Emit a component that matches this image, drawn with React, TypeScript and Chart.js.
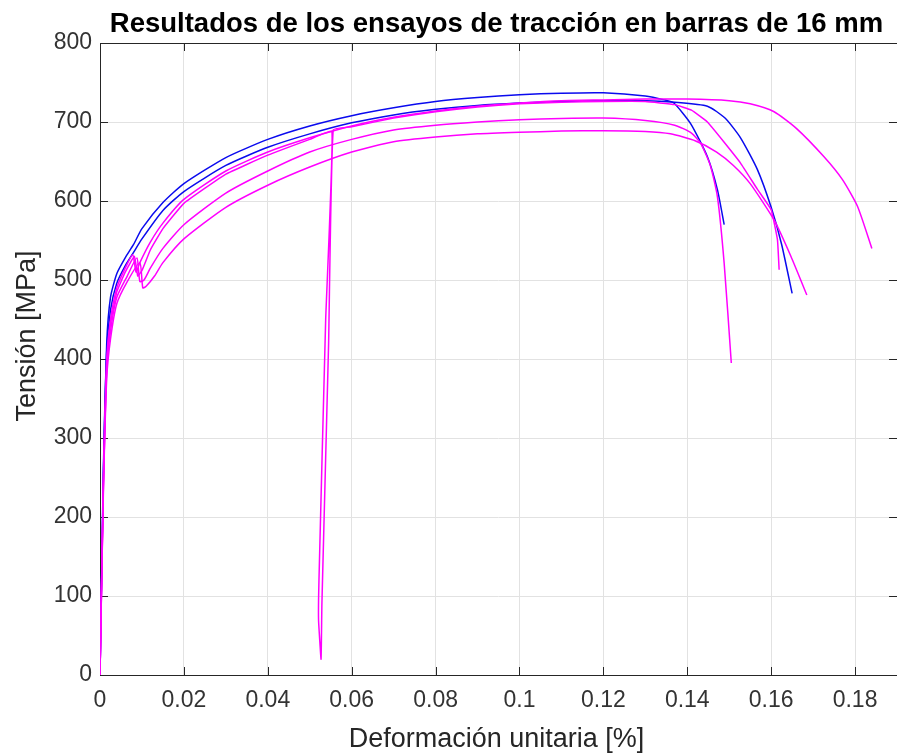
import React, { useEffect, useRef } from 'react';
import { Chart, registerables } from 'chart.js';

Chart.register(...registerables);

// ---------- text ----------
const TITLE = 'Resultados de los ensayos de tracción en barras de 16 mm';
const X_LABEL = 'Deformación unitaria [%]';
const Y_LABEL = 'Tensión [MPa]';

// ---------- ticks ----------
const xTickValues = [0, 0.02, 0.04, 0.06, 0.08, 0.1, 0.12, 0.14, 0.16, 0.18];
const xTickLabels = ['0', '0.02', '0.04', '0.06', '0.08', '0.1', '0.12', '0.14', '0.16', '0.18'];
const yTickValues = [0, 100, 200, 300, 400, 500, 600, 700, 800];
const yTickLabels = ['0', '100', '200', '300', '400', '500', '600', '700', '800'];

// ---------- data: strain (fraction) / stress (MPa) ----------
const blueAStrain = [0, 0.0008, 0.0016, 0.0025, 0.004, 0.006, 0.008, 0.01, 0.015, 0.02, 0.03, 0.04, 0.05, 0.06, 0.07, 0.08, 0.09, 0.1, 0.11, 0.12, 0.13, 0.1345, 0.1368, 0.1408, 0.1448, 0.1472, 0.1488];
const blueAStress = [0, 260, 420, 478, 508, 528, 545, 565, 598, 622, 655, 678, 695, 708, 718, 726, 731, 734.5, 736.5, 737, 733, 728, 724, 698, 656, 614, 570];

const blueBStrain = [0, 0.0008, 0.0016, 0.0025, 0.004, 0.006, 0.008, 0.01, 0.015, 0.02, 0.03, 0.04, 0.05, 0.06, 0.07, 0.08, 0.09, 0.1, 0.11, 0.12, 0.13, 0.137, 0.1448, 0.149, 0.1527, 0.1567, 0.16, 0.1625, 0.165];
const blueBStress = [0, 250, 410, 462, 496, 518, 535, 552, 588, 612, 645, 668, 685, 699, 709, 716, 721, 724, 726, 727, 727, 725, 720, 705, 680, 640, 592, 545, 483];

const mag1Strain = [0, 0.0008, 0.0016, 0.0025, 0.004, 0.006, 0.0078, 0.0086, 0.0095, 0.012, 0.015, 0.02, 0.03, 0.04, 0.05, 0.06, 0.07, 0.08, 0.09, 0.1, 0.11, 0.12, 0.13, 0.14, 0.15, 0.155, 0.1607, 0.166, 0.1726, 0.177, 0.1806, 0.184];
const mag1Stress = [0, 245, 400, 450, 490, 515, 532, 510, 522, 548, 572, 602, 638, 662, 680, 695, 706, 714, 720, 724, 727, 728, 729, 729, 727, 723, 713, 692, 656, 627, 593, 540];

const mag2Strain = [0, 0.0008, 0.0016, 0.0025, 0.004, 0.006, 0.0082, 0.009, 0.01, 0.012, 0.015, 0.02, 0.03, 0.04, 0.05, 0.0553, 0.0538, 0.0522, 0.0521, 0.0527, 0.0529, 0.0545, 0.0556, 0.06, 0.07, 0.08, 0.09, 0.1, 0.11, 0.12, 0.13, 0.137, 0.141, 0.1448, 0.1487, 0.1527, 0.1567, 0.16, 0.1615, 0.1619];
const mag2Stress = [0, 240, 395, 445, 485, 510, 530, 505, 512, 538, 565, 597, 634, 658, 678, 688, 450, 120, 70, 20, 90, 420, 690, 694, 705, 713, 719, 723, 725, 726, 726, 722, 715, 700, 675, 648, 615, 589, 551, 513];

const mag3Strain = [0, 0.0008, 0.0016, 0.0025, 0.004, 0.0065, 0.0088, 0.0095, 0.0105, 0.012, 0.015, 0.02, 0.03, 0.04, 0.05, 0.06, 0.07, 0.08, 0.09, 0.1, 0.11, 0.12, 0.13, 0.137, 0.141, 0.1432, 0.1455, 0.1472, 0.1488, 0.1505];
const mag3Stress = [0, 235, 385, 435, 478, 505, 528, 498, 500, 515, 540, 570, 610, 638, 662, 678, 690, 696, 700, 703, 704.5, 705, 702, 696, 686, 673, 645, 605, 521, 395];

const mag4Strain = [0, 0.0008, 0.0016, 0.0025, 0.004, 0.0065, 0.0095, 0.0102, 0.011, 0.013, 0.015, 0.02, 0.03, 0.04, 0.05, 0.06, 0.07, 0.08, 0.09, 0.1, 0.11, 0.12, 0.13, 0.136, 0.142, 0.147, 0.151, 0.155, 0.1607, 0.1647, 0.1685];
const mag4Stress = [0, 230, 375, 425, 470, 498, 522, 490, 492, 505, 522, 552, 592, 620, 643, 662, 675, 681, 685, 687, 688.5, 689, 688, 685, 676, 662, 645, 622, 576, 530, 481];

// ---------- style ----------
const BLUE = '#0a0aee';
const MAGENTA = '#ff00ff';
const AXIS_COLOR = '#262626';
const TICK_TEXT = '#333333';
const GRID_COLOR = '#e2e2e2';
const FONT = '"Liberation Sans", Arial, Helvetica, sans-serif';

const W = 897;
const H = 754;

const toPoints = (xs: number[], ys: number[]) => xs.map((x, i) => ({ x, y: ys[i] }));

const frame = {
  id: 'matlabFrame',
  beforeDatasetsDraw(chart: any) {
    const { ctx, chartArea, scales } = chart;
    const { left, right, top, bottom } = chartArea;
    const tl = 8;
    ctx.save();
    ctx.strokeStyle = AXIS_COLOR;
    ctx.lineWidth = 1;
    ctx.beginPath();
    for (const v of xTickValues) {
      const px = Math.round(scales.x.getPixelForValue(v)) + 0.5;
      ctx.moveTo(px, bottom);
      ctx.lineTo(px, bottom - tl);
      ctx.moveTo(px, top);
      ctx.lineTo(px, top + tl);
    }
    for (const v of yTickValues) {
      const py = Math.round(scales.y.getPixelForValue(v)) + 0.5;
      ctx.moveTo(left, py);
      ctx.lineTo(left + tl, py);
      ctx.moveTo(right, py);
      ctx.lineTo(right - tl, py);
    }
    ctx.stroke();
    ctx.strokeRect(Math.round(left) + 0.5, Math.round(top) + 0.5, Math.round(right - left), Math.round(bottom - top));
    ctx.restore();
  },
  afterDraw(chart: any) {
    const { ctx, chartArea } = chart;
    const cx = (chartArea.left + chartArea.right) / 2 - 2;
    ctx.save();
    ctx.fillStyle = '#000000';
    ctx.font = `bold 27.5px ${FONT}`;
    ctx.textAlign = 'center';
    ctx.textBaseline = 'alphabetic';
    ctx.fillText(TITLE, cx, 32);

    ctx.fillStyle = AXIS_COLOR;
    ctx.font = `27px ${FONT}`;
    ctx.fillText(X_LABEL, cx, 747);

    ctx.translate(35, 336);
    ctx.rotate(-Math.PI / 2);
    ctx.fillText(Y_LABEL, 0, 0);
    ctx.restore();
  },
};

export default function App() {
  const canvasRef = useRef<HTMLCanvasElement | null>(null);

  useEffect(() => {
    if (!canvasRef.current) return;
    const lineDs = (label: string, xs: number[], ys: number[], color: string, tension: number) => ({
      label,
      data: toPoints(xs, ys),
      borderColor: color,
      backgroundColor: color,
      borderWidth: 1.5,
      pointRadius: 0,
      fill: false,
      tension,
    });
    const chart = new Chart(canvasRef.current, {
      type: 'line',
      data: {
        datasets: [
          lineDs('Ensayo 3', mag1Strain, mag1Stress, MAGENTA, 0.2),
          lineDs('Ensayo 4', mag2Strain, mag2Stress, MAGENTA, 0.1),
          lineDs('Ensayo 5', mag3Strain, mag3Stress, MAGENTA, 0.2),
          lineDs('Ensayo 6', mag4Strain, mag4Stress, MAGENTA, 0.2),
          lineDs('Ensayo 1', blueAStrain, blueAStress, BLUE, 0.2),
          lineDs('Ensayo 2', blueBStrain, blueBStress, BLUE, 0.2),
        ],
      },
      options: {
        animation: false,
        responsive: false,
        events: [],
        layout: { padding: { top: 43, right: 0, left: 0, bottom: 0 } },
        plugins: {
          legend: { display: false },
          title: { display: false },
          tooltip: { enabled: false },
        },
        scales: {
          x: {
            type: 'linear',
            min: 0,
            max: 0.19,
            afterBuildTicks: (scale: any) => {
              scale.ticks = xTickValues.map((v) => ({ value: v }));
            },
            afterFit: (scale: any) => {
              scale.height = H - 675;
            },
            grid: { color: GRID_COLOR, drawTicks: false, lineWidth: 1 },
            border: { display: false },
            ticks: {
              autoSkip: false,
              maxRotation: 0,
              minRotation: 0,
              padding: 12,
              color: TICK_TEXT,
              font: { family: FONT, size: 23 },
              callback: (_v: any, i: number) => xTickLabels[i],
            },
          },
          y: {
            type: 'linear',
            min: 0,
            max: 800,
            afterBuildTicks: (scale: any) => {
              scale.ticks = yTickValues.map((v) => ({ value: v }));
            },
            afterFit: (scale: any) => {
              scale.width = 100;
            },
            grid: { color: GRID_COLOR, drawTicks: false, lineWidth: 1 },
            border: { display: false },
            ticks: {
              autoSkip: false,
              padding: 8,
              color: TICK_TEXT,
              font: { family: FONT, size: 23 },
              callback: (_v: any, i: number) => yTickLabels[i],
            },
          },
        },
      },
      plugins: [frame],
    });
    return () => chart.destroy();
  }, []);

  return (
    <div style={{ position: 'absolute', left: 0, top: 0, width: W, height: H, background: '#ffffff' }}>
      <canvas ref={canvasRef} width={W} height={H} style={{ display: 'block' }} />
    </div>
  );
}
